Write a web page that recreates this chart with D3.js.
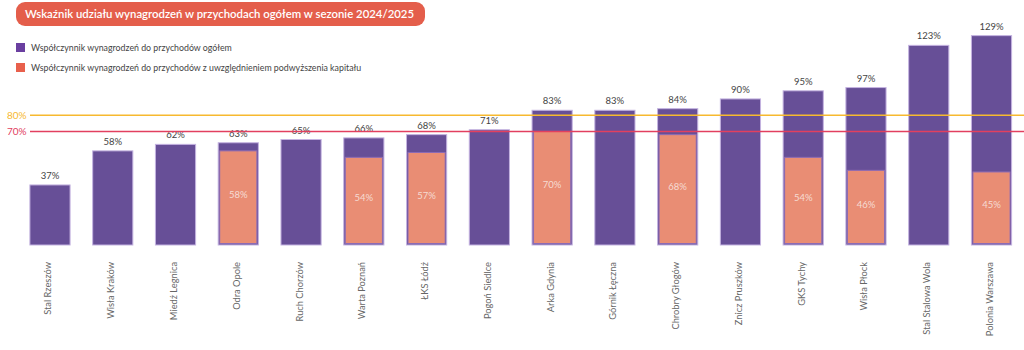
<!DOCTYPE html>
<html>
<head>
<meta charset="utf-8">
<script src="https://cdn.jsdelivr.net/npm/d3@7"></script>
<style>
  body { margin: 0; background: #fff; }
  text { font-family: Lato, "Open Sans", sans-serif; }
</style>
</head>
<body>
<div id="container"></div>
<script>
/* CONSTANTS AND GLOBALS */
const width = 1024,
    height = 350,
    baseline = 245;

/* DATA */
const teams = ["Stal Rzeszów", "Wisła Kraków", "Miedź Legnica", "Odra Opole", "Ruch Chorzów",
    "Warta Poznań", "ŁKS Łódź", "Pogoń Siedlce", "Arka Gdynia", "Górnik Łęczna",
    "Chrobry Głogów", "Znicz Pruszków", "GKS Tychy", "Wisła Płock", "Stal Stalowa Wola", "Polonia Warszawa"]
const totalRatio = [37, 58, 62, 63, 65, 66, 68, 71, 83, 83, 84, 90, 95, 97, 123, 129]
const capitalRatio = [null, null, null, 58, null, 54, 57, null, 70, null, 68, null, 54, 46, null, 45]
const refValues = [80, 70]
const refLabels = ["80%", "70%"]
const refColors = ["#f7b92f", "#e2405f"]
const legendLabels = ["Współczynnik wynagrodzeń do przychodów ogółem",
    "Współczynnik wynagrodzeń do przychodów z uwzględnieniem podwyższenia kapitału"]
const legendColors = ["#6a3fa0", "#e8604c"]
const title = "Wskaźnik udziału wynagrodzeń w przychodach ogółem w sezonie 2024/2025"

const dataset = teams.map((t, i) => ({ team: t, total: totalRatio[i], capital: capitalRatio[i] }))

const svg = d3.select("#container")
    .append("svg")
    .attr("width", width)
    .attr("height", height)

// SCALES
const xScale = d3.scaleBand()
    .domain(teams)
    .range([18.6, 1022.9])
    .paddingInner(0.36)
    .paddingOuter(0.18)

const yScale = d3.scaleLinear()
    .domain([0, 130])
    .range([baseline, 34])

// TITLE
svg.append("rect")
    .attr("x", 16).attr("y", 2)
    .attr("width", 409).attr("height", 24)
    .attr("rx", 9)
    .attr("fill", "#e45e4b")

svg.append("text")
    .attr("x", 25).attr("y", 18)
    .attr("fill", "white")
    .attr("textLength", 389)
    .attr("lengthAdjust", "spacingAndGlyphs")
    .style("font-size", "12px")
    .style("font-weight", "600")
    .text(title)

// LEGEND
const legend = svg.selectAll(".legend")
    .data(legendLabels)
    .join("g")
    .attr("class", "legend")
    .attr("transform", (d, i) => "translate(16," + (43 + i * 20) + ")")

legend.append("rect")
    .attr("width", 9).attr("height", 9)
    .attr("fill", (d, i) => legendColors[i])

legend.append("text")
    .attr("x", 15).attr("y", 8)
    .attr("fill", "#444")
    .style("font-size", "8.8px")
    .text(d => d)

// BARS
const bar = svg.selectAll(".bar")
    .data(dataset)
    .join("g")
    .attr("class", "bar")

bar.append("rect")
    .attr("x", d => xScale(d.team))
    .attr("y", d => yScale(d.total))
    .attr("width", xScale.bandwidth())
    .attr("height", d => baseline - yScale(d.total))
    .attr("fill", "#674f97")
    .attr("stroke", "#c4b3e0")
    .attr("stroke-width", 1)

bar.filter(d => d.capital != null)
    .append("rect")
    .attr("x", d => xScale(d.team) + 1.5)
    .attr("y", d => yScale(d.capital))
    .attr("width", xScale.bandwidth() - 3)
    .attr("height", d => baseline - 1.5 - yScale(d.capital))
    .attr("fill", "#e98d74")
    .attr("stroke", "#8c6bb5")
    .attr("stroke-width", 1)

// VALUE LABELS
bar.append("text")
    .attr("x", d => xScale(d.team) + xScale.bandwidth() / 2)
    .attr("y", d => yScale(d.total) - 6)
    .attr("text-anchor", "middle")
    .attr("fill", "#444")
    .style("font-size", "9.5px")
    .text(d => d.total + "%")

bar.filter(d => d.capital != null)
    .append("text")
    .attr("x", d => xScale(d.team) + xScale.bandwidth() / 2)
    .attr("y", d => (yScale(d.capital) + baseline) / 2)
    .attr("text-anchor", "middle")
    .attr("fill", "#f6dcd3")
    .style("font-size", "9.5px")
    .text(d => d.capital + "%")

// REFERENCE LINES
const ref = svg.selectAll(".ref")
    .data(refValues)
    .join("g")
    .attr("class", "ref")

ref.append("line")
    .attr("x1", 30).attr("x2", width)
    .attr("y1", d => yScale(d)).attr("y2", d => yScale(d))
    .attr("stroke", (d, i) => refColors[i])
    .attr("stroke-width", 1.5)

ref.append("text")
    .attr("x", 7)
    .attr("y", d => yScale(d) + 3.5)
    .attr("fill", (d, i) => refColors[i])
    .style("font-size", "10px")
    .text((d, i) => refLabels[i])

// X LABELS
svg.selectAll(".xlabel")
    .data(teams)
    .join("text")
    .attr("class", "xlabel")
    .attr("transform", d => "translate(" + (xScale(d) + xScale.bandwidth() / 2 + 1.5) + ",262) rotate(-90)")
    .attr("text-anchor", "end")
    .attr("fill", "#666")
    .style("font-size", "9.3px")
    .text(d => d)
</script>
</body>
</html>
